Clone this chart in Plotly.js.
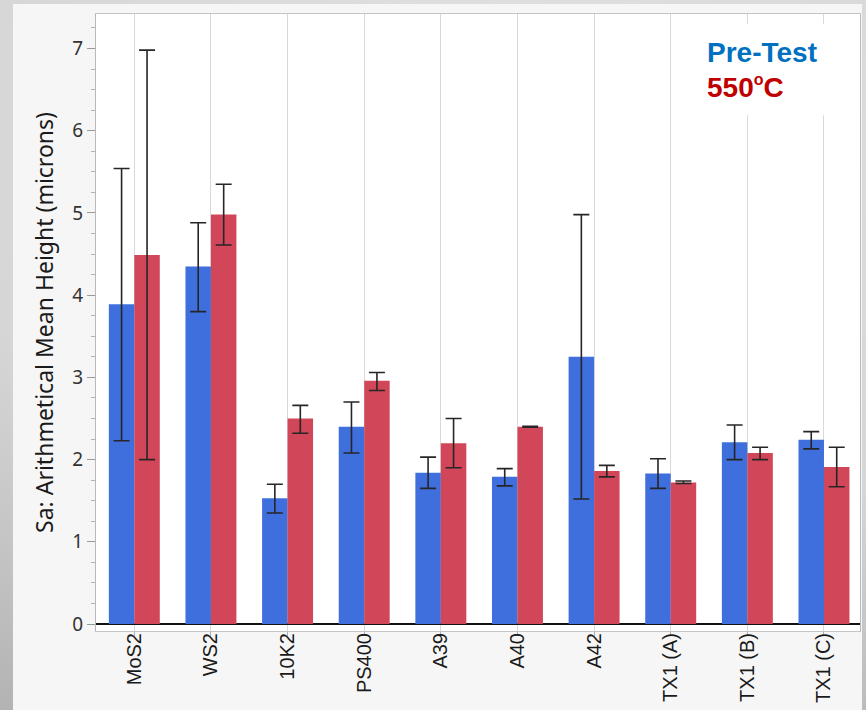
<!DOCTYPE html>
<html>
<head>
<meta charset="utf-8">
<script src="https://cdn.plot.ly/plotly-3.0.1.min.js"></script>
<style>
  html, body { margin: 0; padding: 0; width: 866px; height: 710px; overflow: hidden; }
  body { background: radial-gradient(ellipse 120% 110% at 60% 20%, #e2e2e2 0%, #d6d6d6 55%, #a6a6a6 100%); position: relative; }
  #chart { position: absolute; left: 13px; top: 4px; width: 849px; height: 706px; }
</style>
</head>
<body>
<div id="chart"></div>
<script>
// Samples and surface roughness (Sa, microns): mean with upper/lower error bounds
const categories = ["MoS2", "WS2", "10K2", "PS400", "A39", "A40", "A42", "TX1 (A)", "TX1 (B)", "TX1 (C)"];

const preTestMean  = [3.89, 4.35, 1.53, 2.40, 1.84, 1.79, 3.25, 1.83, 2.21, 2.24];
const preTestUpper = [5.54, 4.88, 1.70, 2.70, 2.03, 1.89, 4.98, 2.01, 2.42, 2.34];
const preTestLower = [2.23, 3.80, 1.35, 2.08, 1.65, 1.68, 1.52, 1.65, 2.00, 2.13];

const hotMean  = [4.49, 4.98, 2.50, 2.96, 2.20, 2.40, 1.86, 1.72, 2.08, 1.91];
const hotUpper = [6.98, 5.35, 2.66, 3.06, 2.50, 2.405, 1.93, 1.74, 2.15, 2.15];
const hotLower = [2.00, 4.61, 2.32, 2.84, 1.90, 2.395, 1.79, 1.71, 2.00, 1.67];

const yTickVals = [0, 1, 2, 3, 4, 5, 6, 7];

function errorBars(mean, upper, lower) {
  return {
    type: "data",
    symmetric: false,
    array: upper.map((u, i) => u - mean[i]),
    arrayminus: lower.map((l, i) => mean[i] - l),
    color: "#262626",
    thickness: 1.6,
    width: 8
  };
}

const traces = [
  {
    type: "bar", name: "Pre-Test", x: categories, y: preTestMean,
    marker: { color: "#3f6fdc" },
    error_y: errorBars(preTestMean, preTestUpper, preTestLower),
    hoverinfo: "x+y"
  },
  {
    type: "bar", name: "550oC", x: categories, y: hotMean,
    marker: { color: "#d24659" },
    error_y: errorBars(hotMean, hotUpper, hotLower),
    hoverinfo: "x+y"
  }
];

const layout = {
  width: 849, height: 706,
  margin: { l: 83, r: 2, t: 10, b: 79, pad: 0 },
  paper_bgcolor: "#f6f6f6",
  plot_bgcolor: "#ffffff",
  barmode: "group",
  bargap: 0.335,
  bargroupgap: 0,
  showlegend: false,
  xaxis: {
    type: "category",
    range: [-0.5, 9.47],
    showgrid: true, gridcolor: "#d9d9d9", gridwidth: 1,
    showline: true, linecolor: "#c4c4c4", linewidth: 1, mirror: true,
    ticks: "outside", ticklen: 4, tickcolor: "#b0b0b0",
    tickangle: -90,
    ticklabelstandoff: -11,
    tickfont: { family: "Liberation Sans, Arial, sans-serif", size: 20, color: "#1a1a1a" },
    zeroline: false
  },
  yaxis: {
    range: [-0.085, 7.42],
    tickvals: yTickVals,
    showgrid: false,
    showline: true, linecolor: "#b8b8b8", linewidth: 1, mirror: true,
    ticks: "outside", ticklen: 8, tickcolor: "#9a9a9a",
    minor: { dtick: 0.25, ticks: "outside", ticklen: 4, tickcolor: "#b4b4b4", showgrid: false },
    tickfont: { family: "Noto Sans, Open Sans, sans-serif", size: 19, color: "#333333" },
    zeroline: true, zerolinecolor: "#111111", zerolinewidth: 2,
    title: {
      text: "Sa: Arithmetical Mean Height (microns)",
      font: { family: "Noto Sans, Open Sans, sans-serif", size: 23, color: "#1a1a1a" },
      standoff: 12
    }
  },
  shapes: [
    // white backing behind the series labels
    { type: "rect", xref: "paper", yref: "paper", layer: "above",
      x0: 0.78, x1: 0.985, y0: 0.836, y1: 0.984,
      fillcolor: "#ffffff", line: { width: 0 } }
  ],
  annotations: [
    { xref: "paper", yref: "paper", x: 0.797, y: 0.937, xanchor: "left", yanchor: "middle",
      text: "<b>Pre-Test</b>", showarrow: false,
      font: { family: "Liberation Sans, Arial, sans-serif", size: 28, color: "#0070c0" } },
    { xref: "paper", yref: "paper", x: 0.797, y: 0.882, xanchor: "left", yanchor: "middle",
      text: "<b>550<sup><span style=\"font-size:16px\">o</span></sup>C</b>", showarrow: false,
      font: { family: "Liberation Sans, Arial, sans-serif", size: 28, color: "#c00000" } }
  ]
};

Plotly.newPlot("chart", traces, layout, { displayModeBar: false, staticPlot: true });
</script>
</body>
</html>
